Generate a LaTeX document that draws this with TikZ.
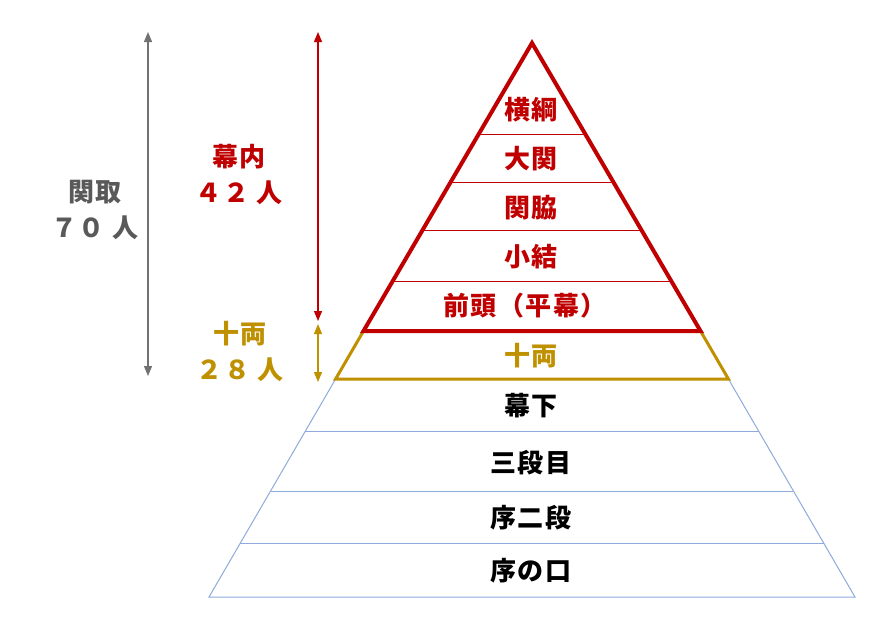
\documentclass[tikz,border=0pt]{standalone}
\usepackage{fontspec}
\newfontfamily\jp{Noto Sans CJK JP}[LetterSpace=6]
\usetikzlibrary{arrows.meta}
\definecolor{makuuchired}{HTML}{C00000}
\definecolor{juryogold}{HTML}{BF9000}
\definecolor{lowerblue}{HTML}{8FAADC}
\definecolor{sekitorigray}{HTML}{595959}

\begin{document}
\begin{tikzpicture}
[x=1pt, y=-1pt, >={Triangle[length=10pt, width=8pt]}, rank/.style={font=\jp\bfseries\fontsize{26}{26}\selectfont, inner sep=0}, count/.style={align=center, inner sep=0, font=\jp\bfseries\fontsize{26}{36}\selectfont}]
\useasboundingbox (0,0) rectangle (882,627);
\fill [white] (0,0) rectangle (882,627);
\draw [lowerblue, line width=1pt] (335.6,379) -- (209,597) -- (855,597) -- (728.4,379);
\foreach \y in {431,491,543}
  \draw [lowerblue, line width=1pt] ({532-0.581*(\y-41)},\y) -- ({532+0.581*(\y-41)},\y);
\draw [juryogold, line width=3pt] (363.5,331) -- (335.6,379) -- (728.4,379) -- (700.5,331);
\foreach \y in {134,182,230,281}
  \draw [makuuchired, line width=1pt] ({532-0.581*(\y-41)},\y) -- ({532+0.581*(\y-41)},\y);
\draw [makuuchired, line width=4pt] (532,43) -- (363.5,331) -- (700.5,331) -- cycle;
\node (yokozuna) [rank, makuuchired] at (531,110) {横綱};
\node (ozeki) [rank, makuuchired] at (531,159) {大関};
\node (sekiwake) [rank, makuuchired] at (531,208) {関脇};
\node (komusubi) [rank, makuuchired] at (531,257) {小結};
\node (maegashira) [rank, makuuchired] at (525,306) {前頭（平幕）};
\node (juryo) [rank, juryogold] at (531,356) {十両};
\node (makushita) [rank, black] at (531,406) {幕下};
\node (sandanme) [rank, black] at (531,463) {三段目};
\node (jonidan) [rank, black] at (531,518) {序二段};
\node (jonokuchi) [rank, black] at (531,571) {序の口};
\node (sekitori) [count, sekitorigray] at (95,210) {関取\\７０ 人};
\node (makuuchi) [count, makuuchired] at (239,175) {幕内\\４２ 人};
\node (juryocount) [count, juryogold] at (240,352) {十両\\２８ 人};
\coordinate (sekitoritop) at (148,32);
\coordinate (sekitoribottom) at (148,376);
\coordinate (makuuchitop) at (318,32);
\coordinate (makuuchibottom) at (318,321);
\coordinate (juryotop) at (318,324);
\coordinate (juryobottom) at (318,382);
\draw [<->, sekitorigray!85, line width=1.2pt] (sekitoritop) -- (sekitoribottom);
\draw [<->, makuuchired, line width=1.2pt] (makuuchitop) -- (makuuchibottom);
\draw [<->, juryogold, line width=1.2pt] (juryotop) -- (juryobottom);
\end{tikzpicture}
\end{document}
